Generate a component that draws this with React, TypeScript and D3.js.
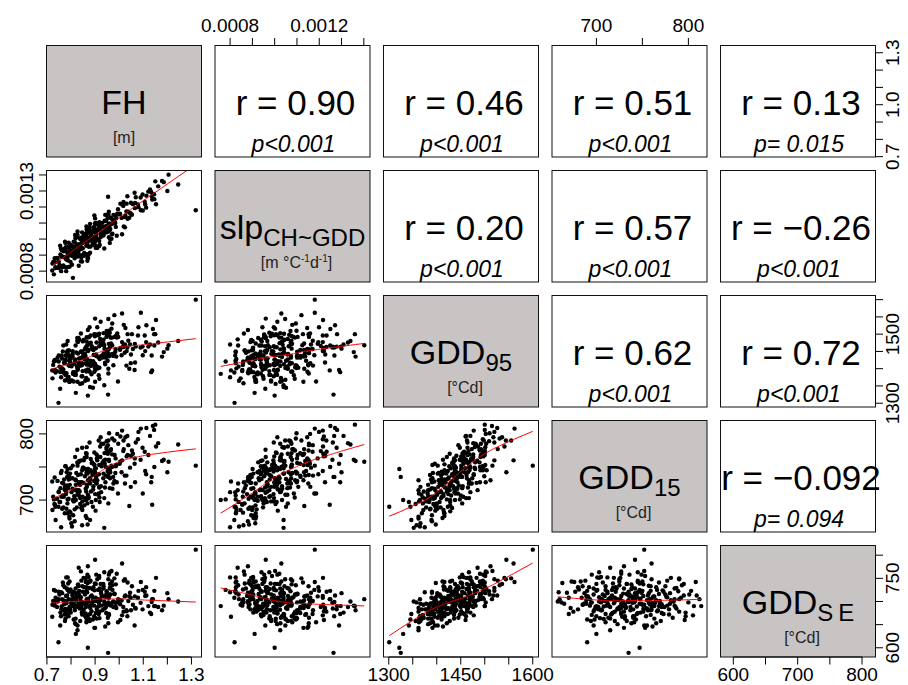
import React, { useEffect, useRef } from 'react';
import * as d3 from 'd3';

// observations (same order in every array)
const FH = [
  0.817, 0.944, 0.735, 1.053, 0.869, 0.976, 0.909, 0.848, 0.784, 1.018,
  0.786, 0.961, 0.775, 0.922, 0.903, 1.064, 0.819, 0.948, 0.915, 0.736,
  0.953, 0.879, 0.796, 0.955, 1.146, 0.777, 1.026, 0.900, 0.843, 0.847,
  0.904, 0.860, 0.833, 1.035, 0.903, 0.953, 0.733, 0.917, 0.972, 0.782,
  0.793, 1.065, 0.837, 0.935, 0.861, 0.955, 0.749, 0.957, 0.962, 0.888,
  0.763, 0.879, 1.048, 1.019, 0.859, 0.849, 0.896, 0.992, 0.829, 1.030,
  0.801, 0.865, 0.820, 1.002, 0.919, 1.069, 0.841, 0.846, 0.726, 0.964,
  0.891, 0.986, 0.794, 0.971, 0.827, 1.185, 0.794, 0.935, 0.918, 0.865,
  0.809, 0.958, 1.024, 0.865, 0.790, 0.786, 0.995, 1.080, 0.790, 0.868,
  0.897, 0.806, 1.049, 0.766, 0.894, 0.879, 1.153, 0.832, 0.826, 0.814,
  1.112, 0.723, 0.907, 0.924, 0.915, 0.863, 0.881, 1.042, 0.946, 0.732,
  0.938, 0.940, 0.768, 1.034, 0.900, 0.957, 0.774, 0.817, 0.980, 0.947,
  0.755, 0.984, 0.917, 1.106, 0.760, 0.935, 0.878, 0.865, 0.926, 0.865,
  0.778, 0.844, 1.113, 0.832, 0.945, 0.729, 0.971, 1.133, 0.899, 0.828,
  1.318, 0.808, 0.722, 0.748, 0.954, 1.150, 1.245, 1.205, 1.200, 0.759,
  0.804, 0.846, 0.869, 0.938, 1.140, 1.145, 1.137, 0.820, 0.870, 0.980,
  1.012, 0.870, 0.780, 1.090, 0.900,
  0.742, 0.756, 0.768, 0.771, 0.779, 0.785, 0.790, 0.795, 0.798, 0.802,
  0.806, 0.811, 0.763, 0.749, 0.776, 0.731, 0.788, 0.815, 0.758, 0.770,
  0.822, 0.828, 0.834, 0.838, 0.845, 0.851, 0.855, 0.858, 0.862, 0.866,
  0.870, 0.874, 0.877, 0.882, 0.885, 0.889, 0.892, 0.896, 0.826, 0.843,
  0.903, 0.907, 0.912, 0.916, 0.921, 0.925, 0.930, 0.934, 0.939, 0.943,
  0.948, 0.952, 0.957, 0.961, 0.966, 0.970, 0.975, 0.981, 0.988, 0.996,
  1.004, 1.010, 1.017, 1.023, 1.031, 1.038, 1.045, 1.057, 1.066, 1.078,
  1.089, 1.097, 1.108, 1.121, 1.128, 1.135, 1.162, 1.178, 1.098, 1.012,
  0.783, 0.799, 0.813, 0.819, 0.824, 0.831, 0.836, 0.841, 0.847, 0.852,
  0.857, 0.861, 0.867, 0.873, 0.880, 0.886, 0.893, 0.899, 0.906, 0.913,
  0.744, 0.752, 0.761, 0.773, 0.781, 0.792, 0.807, 0.816, 0.829, 0.839,
  0.853, 0.864, 0.871, 0.883, 0.897, 0.909, 0.927, 0.941, 0.963, 0.985,
  0.815, 0.861, 0.902, 0.794, 0.923, 0.958, 0.877, 0.846, 0.905, 0.873,
  0.942, 0.864, 0.990, 0.827, 1.005, 0.786, 0.918, 0.955, 0.838, 0.968,
];

const SLP = [
  0.000933, 0.001073, 0.000824, 0.001152, 0.001042, 0.001151, 0.000945, 0.000976, 0.000882, 0.001232,
  0.000915, 0.000976, 0.000984, 0.001072, 0.000945, 0.001289, 0.000931, 0.001042, 0.001086, 0.000819,
  0.001132, 0.000915, 0.000965, 0.001059, 0.001249, 0.000976, 0.001146, 0.001129, 0.000994, 0.000899,
  0.001019, 0.001024, 0.000904, 0.001127, 0.001099, 0.001154, 0.000855, 0.000988, 0.001034, 0.000923,
  0.000917, 0.001193, 0.001004, 0.001025, 0.000903, 0.001153, 0.000859, 0.001170, 0.001001, 0.001042,
  0.000828, 0.001095, 0.001160, 0.001079, 0.001033, 0.000942, 0.001067, 0.001159, 0.000913, 0.001172,
  0.000913, 0.000960, 0.001011, 0.001158, 0.000965, 0.001261, 0.000862, 0.001011, 0.000857, 0.001091,
  0.001051, 0.001076, 0.000941, 0.001095, 0.001025, 0.001355, 0.000828, 0.001039, 0.001106, 0.001059,
  0.000895, 0.001137, 0.001073, 0.001035, 0.000909, 0.000901, 0.001186, 0.001199, 0.000978, 0.000865,
  0.001147, 0.000895, 0.001227, 0.000825, 0.000995, 0.001040, 0.001217, 0.000965, 0.000967, 0.000924,
  0.001196, 0.000847, 0.001100, 0.001033, 0.001065, 0.001028, 0.000954, 0.001133, 0.001115, 0.000881,
  0.000941, 0.001114, 0.000836, 0.001267, 0.000995, 0.001012, 0.000826, 0.001026, 0.001101, 0.001084,
  0.000958, 0.001101, 0.000957, 0.001233, 0.000891, 0.001044, 0.001074, 0.000905, 0.001075, 0.001001,
  0.000950, 0.000948, 0.001271, 0.000834, 0.001115, 0.000780, 0.001124, 0.001294, 0.000982, 0.000959,
  0.001180, 0.000758, 0.000804, 0.000820, 0.001264, 0.001360, 0.001340, 0.001402, 0.001300, 0.000800,
  0.000840, 0.000860, 0.000885, 0.001040, 0.001250, 0.001280, 0.001247, 0.000910, 0.001000, 0.001120,
  0.001030, 0.000880, 0.000800, 0.001180, 0.000960,
  0.000883, 0.000904, 0.000889, 0.000887, 0.000876, 0.000950, 0.000904, 0.000965, 0.000858, 0.000913,
  0.000928, 0.000984, 0.000890, 0.000823, 0.000938, 0.000854, 0.000866, 0.000919, 0.000941, 0.000924,
  0.000961, 0.000946, 0.000938, 0.000956, 0.000998, 0.001006, 0.000914, 0.000985, 0.001009, 0.000999,
  0.001048, 0.000952, 0.001010, 0.001028, 0.001009, 0.000978, 0.001015, 0.001077, 0.000959, 0.000887,
  0.001040, 0.001057, 0.000998, 0.001073, 0.001059, 0.001025, 0.001101, 0.001022, 0.001076, 0.001060,
  0.001071, 0.001141, 0.001078, 0.001057, 0.001132, 0.001030, 0.001116, 0.001103, 0.001130, 0.001154,
  0.001156, 0.001132, 0.001207, 0.001137, 0.001221, 0.001171, 0.001163, 0.001218, 0.001226, 0.001216,
  0.001259, 0.001278, 0.001216, 0.001296, 0.001309, 0.001268, 0.001329, 0.001363, 0.001178, 0.001216,
  0.000871, 0.000963, 0.000939, 0.001005, 0.000901, 0.000926, 0.000967, 0.000937, 0.000996, 0.000895,
  0.001026, 0.001013, 0.000970, 0.000997, 0.001051, 0.000996, 0.000966, 0.001098, 0.001031, 0.001057,
  0.000879, 0.000838, 0.000932, 0.000938, 0.000882, 0.000897, 0.000956, 0.000981, 0.000891, 0.000968,
  0.001024, 0.000959, 0.000987, 0.001025, 0.001006, 0.001092, 0.001036, 0.001069, 0.001063, 0.001146,
  0.000880, 0.000905, 0.001014, 0.000914, 0.001012, 0.001098, 0.000996, 0.001042, 0.000953, 0.000903,
  0.001151, 0.001079, 0.001021, 0.001048, 0.001221, 0.000825, 0.001090, 0.001047, 0.001004, 0.001002,
];

const GDD95 = [
  1427, 1437, 1423, 1500, 1413, 1410, 1520, 1393, 1450, 1463,
  1369, 1504, 1366, 1476, 1438, 1396, 1467, 1501, 1381, 1389,
  1454, 1473, 1420, 1400, 1467, 1382, 1518, 1362, 1450, 1414,
  1441, 1437, 1430, 1500, 1408, 1445, 1396, 1501, 1443, 1437,
  1362, 1472, 1412, 1503, 1461, 1386, 1421, 1457, 1463, 1457,
  1401, 1410, 1416, 1527, 1365, 1479, 1413, 1502, 1444, 1409,
  1366, 1491, 1382, 1456, 1428, 1464, 1502, 1416, 1411, 1490,
  1345, 1495, 1410, 1531, 1362, 1448, 1428, 1444, 1403, 1427,
  1390, 1436, 1470, 1479, 1376, 1480, 1363, 1520, 1410, 1453,
  1391, 1436, 1441, 1450, 1440, 1347, 1541, 1418, 1480, 1384,
  1477, 1372, 1436, 1434, 1498, 1373, 1496, 1400, 1454, 1425,
  1467, 1434, 1467, 1461, 1414, 1497, 1416, 1421, 1439, 1492,
  1342, 1449, 1465, 1496, 1396, 1484, 1391, 1412, 1481, 1427,
  1438, 1378, 1526, 1485, 1432, 1421, 1468, 1390, 1494, 1400,
  1600, 1385, 1395, 1301, 1325, 1500, 1480, 1468, 1458, 1375,
  1365, 1358, 1398, 1352, 1515, 1500, 1395, 1330, 1322, 1555,
  1560, 1512, 1470, 1562, 1545,
  1393, 1390, 1398, 1417, 1424, 1371, 1439, 1408, 1415, 1407,
  1442, 1363, 1429, 1438, 1426, 1393, 1453, 1386, 1404, 1389,
  1447, 1397, 1484, 1409, 1410, 1440, 1428, 1443, 1462, 1426,
  1368, 1491, 1414, 1475, 1384, 1462, 1422, 1416, 1489, 1432,
  1459, 1406, 1497, 1432, 1486, 1437, 1432, 1474, 1458, 1443,
  1509, 1423, 1472, 1441, 1473, 1490, 1437, 1492, 1435, 1492,
  1455, 1439, 1466, 1446, 1451, 1481, 1470, 1457, 1418, 1496,
  1461, 1464, 1451, 1464, 1470, 1438, 1476, 1435, 1439, 1477,
  1446, 1429, 1414, 1388, 1408, 1489, 1409, 1449, 1378, 1483,
  1456, 1395, 1468, 1396, 1423, 1465, 1454, 1402, 1476, 1401,
  1432, 1406, 1438, 1386, 1387, 1453, 1451, 1382, 1477, 1430,
  1438, 1428, 1451, 1408, 1500, 1404, 1469, 1417, 1465, 1457,
  1390, 1416, 1397, 1362, 1536, 1510, 1520, 1448, 1499, 1455,
  1413, 1392, 1490, 1402, 1460, 1448, 1371, 1544, 1356, 1516,
];

const GDD15 = [
  715, 750, 690, 775, 740, 725, 760, 705, 735, 790,
  680, 745, 720, 765, 700, 755, 730, 780, 710, 670,
  770, 725, 740, 695, 750, 715, 795, 730, 760, 685,
  735, 747, 707, 768, 727, 783, 693, 753, 717, 742,
  675, 763, 723, 785, 703, 738, 713, 773, 733, 757,
  687, 743, 720, 777, 700, 749, 729, 800, 710, 737,
  665, 765, 723, 755, 697, 787, 727, 745, 705, 775,
  690, 751, 732, 793, 715, 761, 683, 740, 720, 770,
  677, 759, 725, 780, 702, 747, 710, 803, 731, 695,
  753, 717, 767, 707, 743, 670, 781, 727, 757, 699,
  739, 685, 763, 721, 790, 713, 745, 691, 771, 734,
  703, 755, 725, 797, 709, 749, 680, 765, 729, 777,
  697, 741, 719, 773, 705, 759, 733, 673, 785, 723,
  751, 689, 809, 715, 737, 701, 769, 727, 747, 711,
  752, 700, 728, 690, 735, 814, 784, 758, 742, 659,
  660, 662, 663, 658, 812, 806, 693, 700, 747, 790,
  760, 730, 712, 808, 742,
  702, 718, 689, 731, 709, 695, 740, 723, 681, 712,
  733, 698, 726, 712, 751, 694, 718, 686, 741, 705,
  741, 715, 759, 703, 727, 749, 692, 736, 771, 720,
  708, 745, 729, 762, 697, 738, 716, 754, 776, 688,
  748, 725, 766, 739, 781, 712, 756, 733, 771, 727,
  789, 744, 761, 718, 777, 750, 735, 768, 753, 785,
  758, 742, 774, 737, 766, 783, 749, 770, 727, 792,
  761, 779, 744, 768, 797, 735, 786, 759, 710, 805,
  722, 748, 706, 731, 689, 757, 713, 739, 698, 726,
  764, 717, 745, 703, 732, 756, 721, 740, 769, 708,
  729, 697, 744, 716, 687, 735, 752, 706, 738, 724,
  760, 700, 747, 713, 772, 730, 751, 719, 742, 763,
  668, 676, 684, 672, 795, 801, 787, 779, 736, 705,
  761, 741, 727, 752, 796, 701, 704, 790, 694, 752,
];

const GDDSE = [
  708, 693, 723, 733, 668, 688, 748, 698, 713, 678,
  683, 763, 658, 703, 738, 648, 728, 718, 673, 708,
  693, 743, 683, 698, 723, 663, 713, 643, 688, 733,
  703, 695, 715, 741, 675, 665, 691, 755, 725, 701,
  678, 711, 685, 728, 751, 653, 705, 673, 738, 698,
  718, 661, 708, 745, 668, 721, 691, 698, 733, 681,
  695, 731, 651, 703, 728, 685, 765, 675, 701, 715,
  661, 737, 688, 735, 638, 691, 743, 711, 678, 658,
  721, 671, 748, 695, 683, 725, 655, 723, 668, 758,
  643, 713, 681, 741, 708, 673, 751, 695, 718, 688,
  731, 693, 663, 721, 705, 665, 745, 711, 675, 700,
  763, 685, 735, 668, 701, 758, 731, 653, 717, 709,
  648, 698, 751, 721, 683, 733, 658, 743, 691, 705,
  678, 695, 713, 773, 688, 725, 697, 673, 739, 691,
  812, 690, 667, 612, 589, 690, 700, 705, 718, 720,
  705, 698, 740, 700, 705, 690, 705, 630, 600, 750,
  782, 776, 752, 742, 790,
  688, 676, 703, 694, 712, 671, 705, 683, 726, 698,
  716, 661, 705, 721, 684, 697, 739, 694, 668, 681,
  702, 688, 723, 709, 676, 695, 731, 715, 688, 700,
  662, 742, 690, 711, 679, 727, 705, 668, 710, 745,
  706, 684, 725, 697, 703, 718, 681, 738, 694, 712,
  722, 673, 708, 729, 691, 743, 700, 716, 686, 705,
  694, 702, 688, 711, 679, 701, 719, 693, 686, 708,
  697, 683, 712, 690, 676, 699, 688, 681, 725, 670,
  728, 676, 705, 663, 712, 734, 692, 709, 683, 751,
  697, 674, 720, 700, 686, 713, 731, 665, 701, 689,
  700, 715, 689, 672, 696, 721, 693, 681, 737, 703,
  682, 723, 706, 692, 724, 678, 712, 696, 728, 690,
  719, 742, 708, 686, 738, 715, 729, 672, 758, 753,
  646, 655, 760, 648, 660, 752, 664, 748, 658, 766,
];

// upper panels, row by row
const R_TEXT = ['r = 0.90', 'r = 0.46', 'r = 0.51', 'r = 0.13', 'r = 0.20', 'r = 0.57', 'r = \u22120.26', 'r = 0.62', 'r = 0.72', 'r = \u22120.092'];
const P_TEXT = ['p<0.001', 'p<0.001', 'p<0.001', 'p= 0.015', 'p<0.001', 'p<0.001', 'p<0.001', 'p<0.001', 'p<0.001', 'p= 0.094'];

const FH_TICKS = [0.7, 0.8, 0.9, 1.0, 1.1, 1.2, 1.3];
const SLP_TICKS = [0.0008, 0.0009, 0.001, 0.0011, 0.0012, 0.0013, 0.0014];
const GDD95_TICKS = [1300, 1350, 1400, 1450, 1500, 1550, 1600];
const GDD15_TICKS = [700, 750, 800];
const GDDSE_TICKS = [600, 650, 700, 750, 800];

// labelled ticks on horizontal / vertical axes
const FH_LAB_H = [0.7, 0.9, 1.1, 1.3];
const FH_LAB_V = [0.7, 1.0, 1.3];
const SLP_LAB_H = [0.0008, 0.0012];
const SLP_LAB_V = [0.0008, 0.0013];
const GDD95_LAB_H = [1300, 1450, 1600];
const GDD95_LAB_V = [1300, 1500];
const GDD15_LAB_H = [700, 800];
const GDD15_LAB_V = [700, 800];
const GDDSE_LAB_H = [600, 700, 800];
const GDDSE_LAB_V = [600, 750];

const NAMES = ['FH', 'slp', 'GDD', 'GDD', 'GDD'];
const SUBS = ['', 'CH~GDD', '95', '15', 'SE'];

const VARS = [
  { values: FH, ticks: FH_TICKS, labH: FH_LAB_H, labV: FH_LAB_V, fmt: (v) => v.toFixed(1) },
  { values: SLP, ticks: SLP_TICKS, labH: SLP_LAB_H, labV: SLP_LAB_V, fmt: (v) => v.toFixed(4) },
  { values: GDD95, ticks: GDD95_TICKS, labH: GDD95_LAB_H, labV: GDD95_LAB_V, fmt: (v) => String(v) },
  { values: GDD15, ticks: GDD15_TICKS, labH: GDD15_LAB_H, labV: GDD15_LAB_V, fmt: (v) => String(v) },
  { values: GDDSE, ticks: GDDSE_TICKS, labH: GDDSE_LAB_H, labV: GDDSE_LAB_V, fmt: (v) => String(v) },
];

const LEFT = 46.5;
const TOP = 45.5;
const STEP_X = 168.5;
const STEP_Y = 125;
const W = 155;
const H = 111.5;
const FONT = '"Liberation Sans", Arial, Helvetica, sans-serif';

// R style lowess (f = 2/3, iter = 3)
function lowess(xIn: number[], yIn: number[], f = 2 / 3, iter = 3) {
  const n = xIn.length;
  const order = d3.range(n).sort((a, b) => xIn[a] - xIn[b]);
  const x = order.map((i) => xIn[i]);
  const y = order.map((i) => yIn[i]);
  const ns = Math.max(2, Math.min(n, Math.floor(f * n + 1e-7)));
  const range = x[n - 1] - x[0];
  let rw = new Array(n).fill(1);
  const fit = new Array(n).fill(0);
  for (let it = 0; it <= iter; it++) {
    let nleft = 0;
    let nright = ns - 1;
    for (let i = 0; i < n; i++) {
      const xs = x[i];
      while (nright < n - 1 && xs - x[nleft] > x[nright + 1] - xs) {
        nleft++;
        nright++;
      }
      const h = Math.max(xs - x[nleft], x[nright] - xs);
      const h9 = 0.999 * h;
      const h1 = 0.001 * h;
      const w: number[] = [];
      let a = 0;
      for (let j = nleft; j < n; j++) {
        const r = Math.abs(x[j] - xs);
        if (r <= h9) {
          let wj = r <= h1 ? 1 : Math.pow(1 - Math.pow(r / h, 3), 3);
          wj *= rw[j];
          w.push(wj);
          a += wj;
        } else if (x[j] > xs) break;
        else w.push(0);
      }
      if (a <= 0) {
        fit[i] = y[i];
        continue;
      }
      for (let k = 0; k < w.length; k++) w[k] /= a;
      if (h > 0) {
        let mx = 0;
        for (let k = 0; k < w.length; k++) mx += w[k] * x[nleft + k];
        let c = 0;
        for (let k = 0; k < w.length; k++) c += w[k] * (x[nleft + k] - mx) ** 2;
        if (Math.sqrt(c) > 0.001 * range) {
          const b = (xs - mx) / c;
          for (let k = 0; k < w.length; k++) w[k] *= b * (x[nleft + k] - mx) + 1;
        }
      }
      let s = 0;
      for (let k = 0; k < w.length; k++) s += w[k] * y[nleft + k];
      fit[i] = s;
    }
    if (it === iter) break;
    const res = y.map((v, i) => Math.abs(v - fit[i]));
    const cmad = 6 * (d3.median(res) as number);
    if (cmad < 1e-7 * (d3.mean(y, (v) => Math.abs(v)) as number)) break;
    const c9 = 0.999 * cmad;
    const c1 = 0.001 * cmad;
    rw = res.map((r) => (r <= c1 ? 1 : r <= c9 ? (1 - (r / cmad) ** 2) ** 2 : 0));
  }
  return x.map((v, i) => [v, fit[i]] as [number, number]);
}

function ext4(values: number[]) {
  const [lo, hi] = d3.extent(values) as [number, number];
  const pad = (hi - lo) * 0.04;
  return [lo - pad, hi + pad];
}

const App = () => {
  const ref = useRef<SVGSVGElement>(null);

  useEffect(() => {
    const svg = d3.select(ref.current);
    svg.selectAll('*').remove();

    const domains = VARS.map((v) => ext4(v.values));
    const xScale = (k: number, col: number) =>
      d3.scaleLinear().domain(domains[k]).range([LEFT + col * STEP_X, LEFT + col * STEP_X + W]);
    const yScale = (k: number, row: number) =>
      d3.scaleLinear().domain(domains[k]).range([TOP + row * STEP_Y + H, TOP + row * STEP_Y]);

    const defs = svg.append('defs');
    let upper = 0;

    for (let i = 0; i < 5; i++) {
      for (let j = 0; j < 5; j++) {
        const x0 = LEFT + j * STEP_X;
        const y0 = TOP + i * STEP_Y;
        const cx = x0 + W / 2;
        const g = svg.append('g');

        if (i === j) {
          g.append('rect').attr('x', x0).attr('y', y0).attr('width', W).attr('height', H).attr('fill', '#c8c4c4');
          const t = g.append('text')
            .attr('x', cx).attr('y', y0 + 68)
            .attr('text-anchor', 'middle')
            .attr('font-family', FONT).attr('fill', '#000');
          t.append('tspan').attr('font-size', 34).text(NAMES[i]);
          if (SUBS[i] === 'SE') {
            t.append('tspan').attr('font-size', 24).attr('dy', 7).text('S');
            t.append('tspan').attr('font-size', 24).attr('dx', 5).text('E');
          } else if (SUBS[i]) {
            t.append('tspan').attr('font-size', 24).attr('dy', 7).text(SUBS[i]);
          }
          const u = g.append('text')
            .attr('x', cx + (i === 0 ? 0 : 4)).attr('y', y0 + 97)
            .attr('text-anchor', 'middle')
            .attr('font-family', FONT).attr('font-size', 16).attr('fill', '#222');
          if (i === 0) u.text('[m]');
          else if (i === 1) {
            u.append('tspan').text('[m \u00b0C');
            u.append('tspan').attr('font-size', 10).attr('dy', -6).text('-1');
            u.append('tspan').attr('dy', 6).text('d');
            u.append('tspan').attr('font-size', 10).attr('dy', -6).text('-1');
            u.append('tspan').attr('dy', 6).text(']');
          } else u.text('[\u00b0Cd]');
        } else if (i < j) {
          g.append('text')
            .attr('x', cx + 3).attr('y', y0 + 69)
            .attr('text-anchor', 'middle')
            .attr('font-family', FONT).attr('font-size', 35)
            .text(R_TEXT[upper]);
          g.append('text')
            .attr('x', cx + 1).attr('y', y0 + 106)
            .attr('text-anchor', 'middle')
            .attr('font-family', FONT).attr('font-size', 23).attr('font-style', 'italic')
            .text(P_TEXT[upper]);
          upper++;
        } else {
          const sx = xScale(j, j);
          const sy = yScale(i, i);
          const xv = VARS[j].values;
          const yv = VARS[i].values;
          const clipId = `clip-${i}-${j}`;
          defs.append('clipPath').attr('id', clipId)
            .append('rect').attr('x', x0).attr('y', y0).attr('width', W).attr('height', H);
          g.selectAll('circle')
            .data(d3.range(xv.length))
            .join('circle')
            .attr('cx', (k) => sx(xv[k]))
            .attr('cy', (k) => sy(yv[k]))
            .attr('r', 2.2)
            .attr('fill', '#000');
          const fit = lowess(xv, yv);
          g.append('path')
            .attr('clip-path', `url(#${clipId})`)
            .attr('d', d3.line().x((d) => sx(d[0])).y((d) => sy(d[1]))(fit))
            .attr('fill', 'none')
            .attr('stroke', '#ff0000')
            .attr('stroke-width', 1);
        }

        g.append('rect')
          .attr('x', x0).attr('y', y0).attr('width', W).attr('height', H)
          .attr('fill', 'none').attr('stroke', '#111').attr('stroke-width', 1);
      }
    }

    // horizontal axes
    const hAxis = (k: number, col: number, side: 'top' | 'bottom') => {
      const s = xScale(k, col);
      const v = VARS[k];
      const yEdge = side === 'top' ? TOP : TOP + 4 * STEP_Y + H;
      const dir = side === 'top' ? -1 : 1;
      const g = svg.append('g');
      g.append('line')
        .attr('x1', s(v.ticks[0])).attr('x2', s(v.ticks[v.ticks.length - 1]))
        .attr('y1', yEdge).attr('y2', yEdge).attr('stroke', '#000');
      v.ticks.forEach((t) => {
        g.append('line').attr('x1', s(t)).attr('x2', s(t))
          .attr('y1', yEdge).attr('y2', yEdge + dir * 7.5).attr('stroke', '#000');
      });
      v.labH.forEach((t) => {
        g.append('text')
          .attr('x', s(t)).attr('y', side === 'top' ? yEdge - 14 : yEdge + 24)
          .attr('text-anchor', 'middle')
          .attr('font-family', FONT).attr('font-size', 19)
          .text(v.fmt(t));
      });
    };

    // vertical axes
    const vAxis = (k: number, row: number, side: 'left' | 'right') => {
      const s = yScale(k, row);
      const v = VARS[k];
      const xEdge = side === 'left' ? LEFT : LEFT + 4 * STEP_X + W;
      const dir = side === 'left' ? -1 : 1;
      const g = svg.append('g');
      g.append('line')
        .attr('y1', s(v.ticks[0])).attr('y2', s(v.ticks[v.ticks.length - 1]))
        .attr('x1', xEdge).attr('x2', xEdge).attr('stroke', '#000');
      v.ticks.forEach((t) => {
        g.append('line').attr('y1', s(t)).attr('y2', s(t))
          .attr('x1', xEdge).attr('x2', xEdge + dir * 7.5).attr('stroke', '#000');
      });
      v.labV.forEach((t) => {
        const bx = side === 'left' ? xEdge - 14 : xEdge + 23;
        g.append('text')
          .attr('transform', `translate(${bx},${s(t)}) rotate(-90)`)
          .attr('text-anchor', 'middle')
          .attr('font-family', FONT).attr('font-size', 19)
          .text(v.fmt(t));
      });
    };

    [0, 2, 4].forEach((c) => hAxis(c, c, 'bottom'));
    [1, 3].forEach((c) => hAxis(c, c, 'top'));
    [1, 3].forEach((r) => vAxis(r, r, 'left'));
    [0, 2, 4].forEach((r) => vAxis(r, r, 'right'));
  }, []);

  return (
    <svg
      ref={ref}
      width={908}
      height={685}
      style={{ position: 'absolute', left: 0, top: 0, background: '#fff' }}
    />
  );
};

export default App;
